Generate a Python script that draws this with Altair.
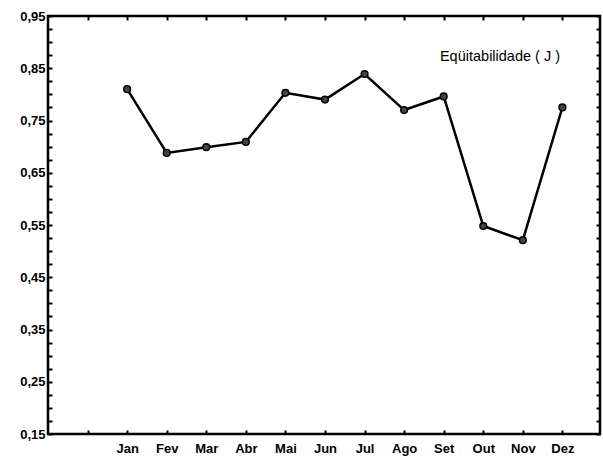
import altair as alt
import pandas as pd

months = ["Jan", "Fev", "Mar", "Abr", "Mai", "Jun", "Jul", "Ago", "Set", "Out", "Nov", "Dez"]
equit = [0.810, 0.688, 0.699, 0.709, 0.803, 0.790, 0.839, 0.770, 0.796, 0.548, 0.521, 0.775]
series_label = "Eqüitabilidade ( J )"
y_major = [0.15, 0.25, 0.35, 0.45, 0.55, 0.65, 0.75, 0.85, 0.95]
y_minor = [round(0.15 + 0.025 * i, 3) for i in range(33)]
x_ticks = list(range(1, 14))

df = pd.DataFrame({"pos": [i + 2 for i in range(len(months))], "mes": months, "J": equit})

W, H = 552, 418
FONT = "Liberation Sans"

xs = alt.Scale(domain=[0, 13.95], nice=False, zero=False)
ys = alt.Scale(domain=[0.15, 0.95], nice=False, zero=False)

lab_arr = "[''," + ",".join("'%s'" % m for m in months) + "]"
x_label_expr = lab_arr + "[datum.value - 1]"
y_label_expr = "replace(format(datum.value, '.2f'), '.', ',')"

common = dict(grid=False, title=None, tickColor="black", domain=False)

base = alt.Chart(df)

line = base.mark_line(color="black", strokeWidth=2.5).encode(
    x=alt.X("pos:Q", scale=xs, axis=alt.Axis(values=x_ticks, labelExpr=x_label_expr, ticks=False,
            labelFontSize=13, labelFontWeight="bold", labelFont=FONT, labelColor="black",
            labelPadding=8, orient="bottom", **common)),
    y=alt.Y("J:Q", scale=ys, axis=alt.Axis(values=y_major, labelExpr=y_label_expr, ticks=False,
            labelFontSize=13, labelFontWeight="bold", labelFont=FONT, labelColor="black",
            labelPadding=3, orient="left", **common)),
)

ticks_a = base.mark_point(opacity=0).encode(
    x=alt.X("pos:Q", scale=xs, axis=alt.Axis(values=x_ticks, labels=False, orient="top", offset=-H,
            tickSize=4, tickWidth=2, **common)),
    y=alt.Y("J:Q", scale=ys, axis=alt.Axis(values=y_minor, labels=False, orient="right", offset=-W,
            tickSize=4, tickWidth=2, **common)),
)

ticks_b = base.mark_point(opacity=0).encode(
    x=alt.X("pos:Q", scale=xs, axis=alt.Axis(values=x_ticks, labels=False, orient="bottom", offset=-H,
            tickSize=4, tickWidth=2, **common)),
    y=alt.Y("J:Q", scale=ys, axis=alt.Axis(values=y_minor, labels=False, orient="left", offset=-W,
            tickSize=4, tickWidth=2, **common)),
)

points = base.mark_point(filled=True, size=45, fill="#444444", stroke="black", strokeWidth=1.5, opacity=1).encode(
    x=alt.X("pos:Q", scale=xs, axis=None),
    y=alt.Y("J:Q", scale=ys, axis=None),
)

label = alt.Chart(pd.DataFrame({"t": [series_label]})).mark_text(
    font=FONT, fontSize=14.5, color="black", align="center", baseline="middle"
).encode(x=alt.value(452), y=alt.value(41), text="t:N")

chart = alt.layer(line, ticks_a, ticks_b, points, label).resolve_axis(
    x="independent", y="independent"
).properties(
    width=W, height=H,
    autosize=alt.AutoSizeParams(type="none"),
    padding={"left": 48, "top": 16, "right": 3, "bottom": 29},
    background="white",
).configure_view(stroke="black", strokeWidth=2.5)

chart.save("out.html", embed_options={"renderer": "svg", "actions": False})
